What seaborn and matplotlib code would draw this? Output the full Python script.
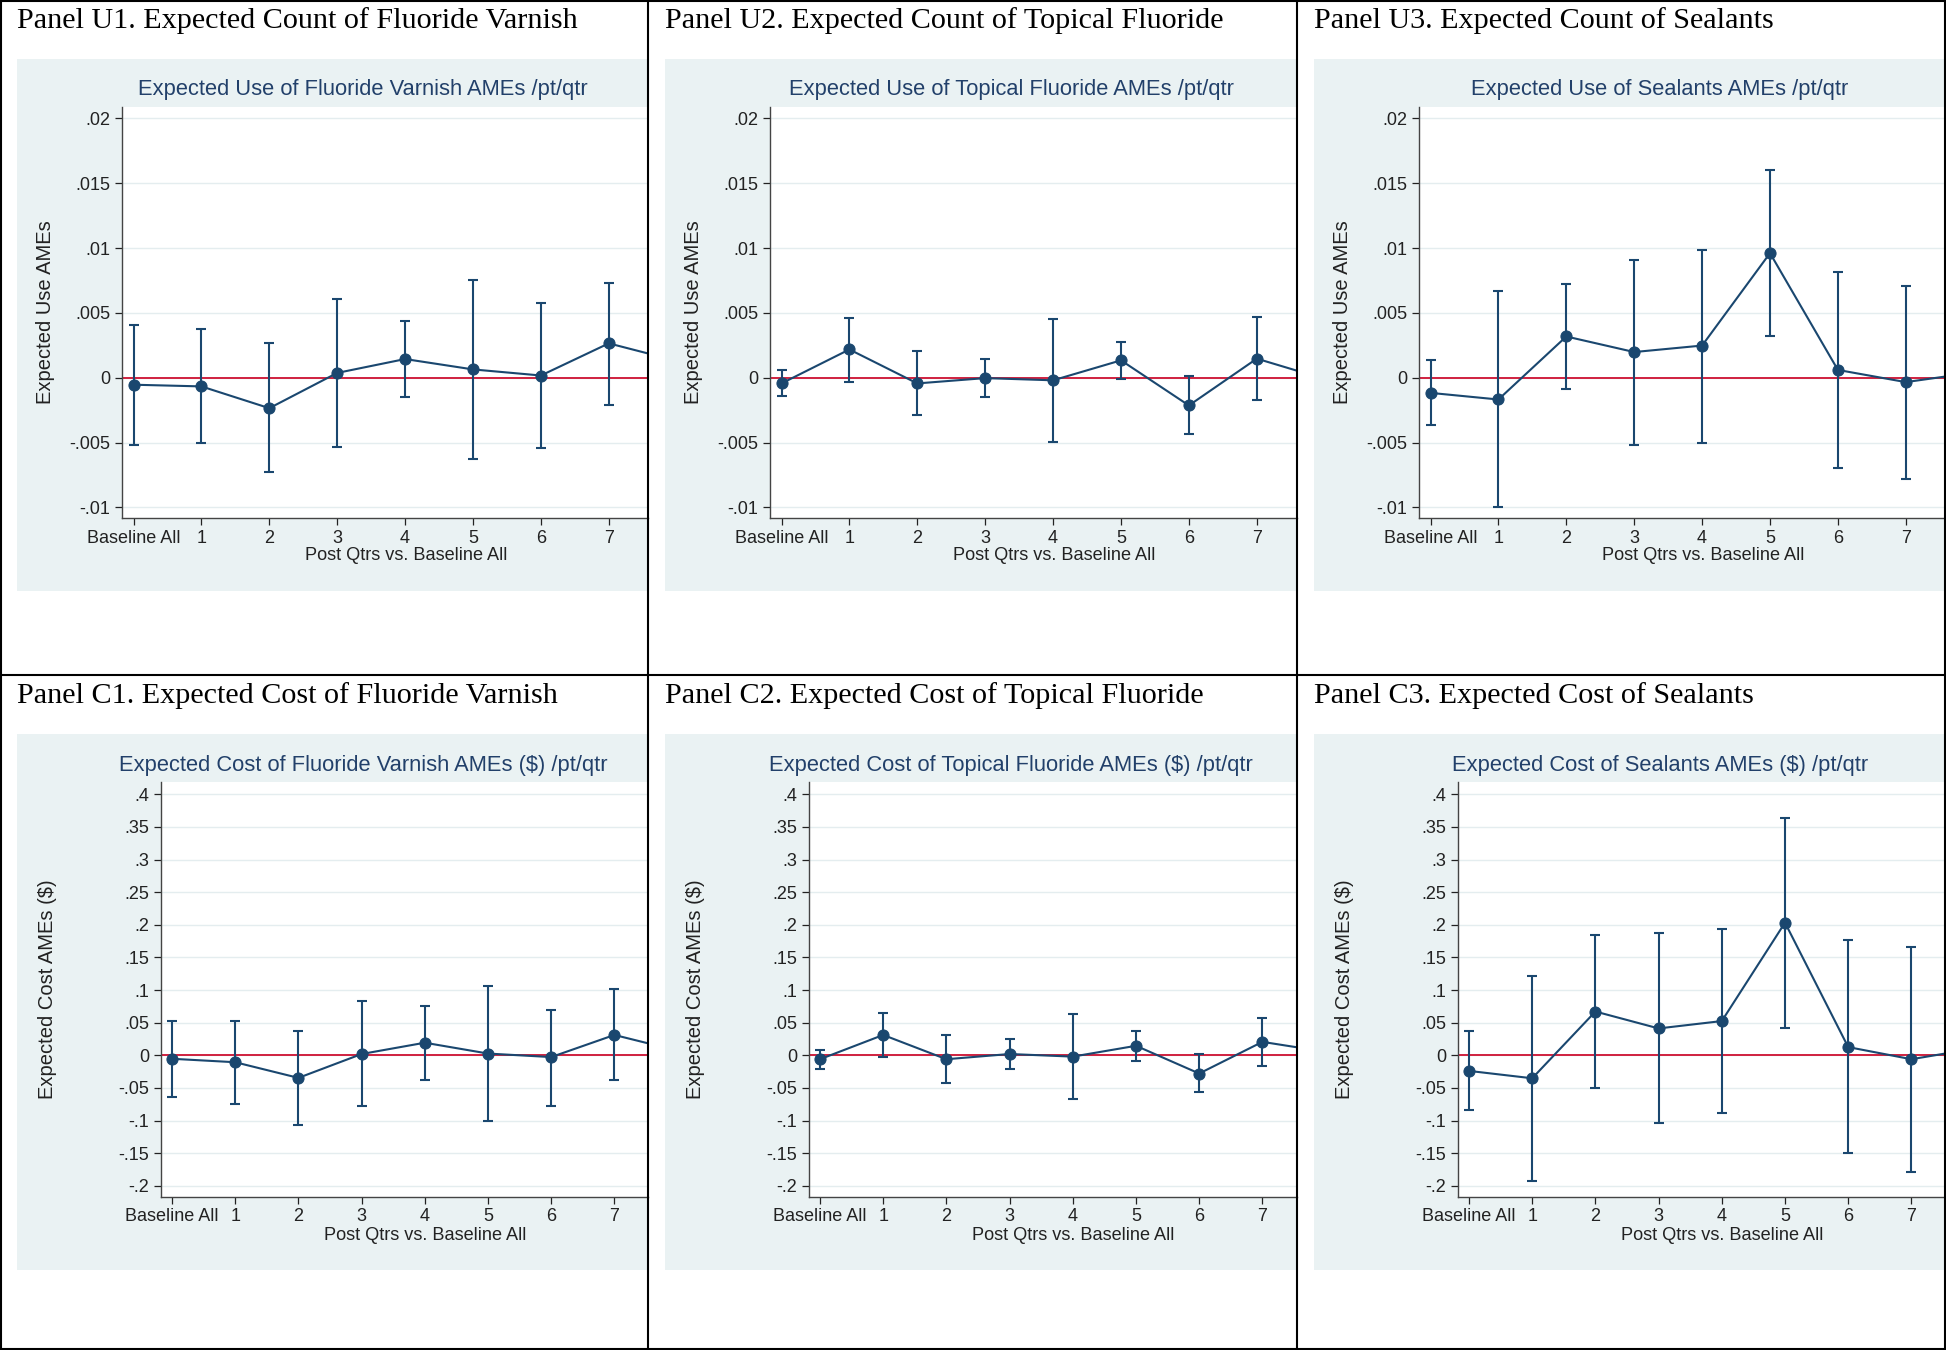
import numpy as np
import pandas as pd
import matplotlib
matplotlib.use("Agg")
import matplotlib.pyplot as plt
from matplotlib.patches import Rectangle
from matplotlib.lines import Line2D
import seaborn as sns

# --- data ---
qtr_pos = [0, 1, 2, 3, 4, 5, 6, 7, 8]
qtr_labels = ["Baseline All", "1", "2", "3", "4", "5", "6", "7"]

# expected use, fluoride varnish
u1_est = [-0.00054, -0.00067, -0.00235, 0.00037, 0.00144, 0.00064, 0.00017, 0.00265, 0.0013]
u1_lo = [-0.00516, -0.00506, -0.0073, -0.00533, -0.00147, -0.00626, -0.00539, -0.00208]
u1_hi = [0.00405, 0.00372, 0.00265, 0.0061, 0.00436, 0.00754, 0.00573, 0.00734]
# expected use, topical fluoride
u2_est = [-0.00044, 0.00218, -0.00044, -0.00003, -0.0002, 0.00134, -0.00214, 0.00147, -0.0001]
u2_lo = [-0.00144, -0.0003, -0.00291, -0.00151, -0.00496, -0.00007, -0.00432, -0.00171]
u2_hi = [0.00057, 0.00462, 0.00204, 0.00144, 0.00452, 0.00278, 0.00013, 0.00466]
# expected use, sealants
u3_est = [-0.00117, -0.00168, 0.00318, 0.00198, 0.00248, 0.00961, 0.0006, -0.00034, 0.0004]
u3_lo = [-0.00365, -0.00995, -0.00084, -0.00516, -0.00503, 0.00322, -0.00697, -0.0078]
u3_hi = [0.00137, 0.00667, 0.0072, 0.00911, 0.00988, 0.01605, 0.00814, 0.00707]
# expected cost, fluoride varnish
c1_est = [-0.0053, -0.0106, -0.0346, 0.002, 0.0193, 0.0027, -0.0027, 0.0312, 0.0071]
c1_lo = [-0.0638, -0.0751, -0.1063, -0.0784, -0.0372, -0.101, -0.0771, -0.0385]
c1_hi = [0.0525, 0.0532, 0.0379, 0.0831, 0.0751, 0.107, 0.0698, 0.1017]
# expected cost, topical fluoride
c2_est = [-0.006, 0.0312, -0.006, 0.002, -0.002, 0.0146, -0.0279, 0.0206, 0.0054]
c2_lo = [-0.0206, -0.0027, -0.0432, -0.0213, -0.0664, -0.0093, -0.0565, -0.0159]
c2_hi = [0.008, 0.0651, 0.0312, 0.0252, 0.0631, 0.0379, 0.0013, 0.0571]
# expected cost, sealants
c3_est = [-0.0239, -0.0352, 0.0671, 0.0412, 0.0525, 0.2033, 0.0126, -0.006, 0.0103]
c3_lo = [-0.0837, -0.192, -0.0498, -0.103, -0.0884, 0.0419, -0.1502, -0.1794]
c3_hi = [0.0365, 0.1223, 0.184, 0.1867, 0.194, 0.3641, 0.1761, 0.1661]

use_ticks = [-0.01, -0.005, 0, 0.005, 0.01, 0.015, 0.02]
use_ticklabels = ["-.01", "-.005", "0", ".005", ".01", ".015", ".02"]
cost_ticks = [-0.2, -0.15, -0.1, -0.05, 0, 0.05, 0.1, 0.15, 0.2, 0.25, 0.3, 0.35, 0.4]
cost_ticklabels = ["-.2", "-.15", "-.1", "-.05", "0", ".05", ".1", ".15", ".2",
                   ".25", ".3", ".35", ".4"]

panel_titles = [
    "Panel U1. Expected Count of Fluoride Varnish",
    "Panel U2. Expected Count of Topical Fluoride",
    "Panel U3. Expected Count of Sealants",
    "Panel C1. Expected Cost of Fluoride Varnish",
    "Panel C2. Expected Cost of Topical Fluoride",
    "Panel C3. Expected Cost of Sealants",
]
graph_titles = [
    "Expected Use of Fluoride Varnish AMEs /pt/qtr",
    "Expected Use of Topical Fluoride AMEs /pt/qtr",
    "Expected Use of Sealants AMEs /pt/qtr",
    "Expected Cost of Fluoride Varnish AMEs ($) /pt/qtr",
    "Expected Cost of Topical Fluoride AMEs ($) /pt/qtr",
    "Expected Cost of Sealants AMEs ($) /pt/qtr",
]
series = [(u1_est, u1_lo, u1_hi), (u2_est, u2_lo, u2_hi), (u3_est, u3_lo, u3_hi),
          (c1_est, c1_lo, c1_hi), (c2_est, c2_lo, c2_hi), (c3_est, c3_lo, c3_hi)]

# --- style ---
sns.set_theme(style="ticks")
plt.rcParams['font.family'] = ['Liberation Sans', 'DejaVu Sans']

NAVY = "#1A476F"
RED = "#D0213F"
BG = "#EAF2F3"
GRID = "#E4EDEF"
TITLE_COL = "#22406A"

W, H = 1946, 1350
fig = plt.figure(figsize=(W / 100, H / 100), dpi=100)
fig.patch.set_facecolor("white")

col_x = [0, 648, 1297]
col_w = [648, 649, 649]
row_y = [0, 675]


def fx(x):
    return x / W


def fy(y):
    return 1 - y / H


for i in range(6):
    r, c = divmod(i, 3)
    ox, oy, cw = col_x[c], row_y[r], col_w[c]
    is_use = r == 0
    est, lo, hi = series[i]

    # geometry in pixels (relative to the cell)
    if is_use:
        left, bottom, top, bg_bottom = 122, 518, 107, 591
        base_px, step_px = 133.5, 67.9
        ylim = (-0.01082, 0.02088)
        ticks, ticklabels = use_ticks, use_ticklabels
        ylab = "Expected Use AMEs"
        ylab_x, xlab_y, xlab_x = 45.6, 556, 406
    else:
        left, bottom, top, bg_bottom = 160.5, 521.7, 107, 595
        base_px, step_px = 172, 63.2
        ylim = (-0.2167, 0.4189)
        ticks, ticklabels = cost_ticks, cost_ticklabels
        ylab = "Expected Cost AMEs ($)"
        ylab_x, xlab_y, xlab_x = 47.7, 561, 425

    # grey-blue graph region
    fig.add_artist(Rectangle((fx(ox + 17), fy(oy + bg_bottom)), (cw - 17) / W,
                             (bg_bottom - 59) / H, transform=fig.transFigure,
                             facecolor=BG, edgecolor="none", zorder=0))

    aw = cw - left
    ah = bottom - top
    ax = fig.add_axes([fx(ox + left), fy(oy + bottom), aw / W, ah / H])
    ax.set_facecolor("white")
    ax.set_zorder(1)

    df = pd.DataFrame({"qtr": qtr_pos, "ame": est})
    for t in ticks:
        ax.axhline(t, color=GRID, lw=1.0, zorder=0)
    ax.axhline(0, color=RED, lw=1.4, zorder=1)
    ax.errorbar(qtr_pos[:8], est[:8],
                yerr=[np.array(est[:8]) - np.array(lo), np.array(hi) - np.array(est[:8])],
                fmt="none", ecolor=NAVY, elinewidth=1.5, capsize=3.8, capthick=1.5,
                zorder=2)
    sns.lineplot(data=df, x="qtr", y="ame", ax=ax, color=NAVY, lw=1.5,
                 marker="o", markersize=8, markeredgecolor=NAVY,
                 markerfacecolor=NAVY, zorder=3)

    ax.set_xlim(-(base_px - left) / step_px, (cw - base_px) / step_px)
    ax.set_ylim(*ylim)
    ax.set_xticks(qtr_pos[:8])
    ax.set_xticklabels(qtr_labels)
    ax.set_yticks(ticks)
    ax.set_yticklabels(ticklabels)
    ax.tick_params(axis="both", labelsize=13, colors="#222222", length=4.8,
                   width=0.9, pad=3.5, direction="out")
    for s in ["top", "right"]:
        ax.spines[s].set_visible(False)
    for s in ["left", "bottom"]:
        ax.spines[s].set_color("#444444")
        ax.spines[s].set_linewidth(1.0)

    ax.set_ylabel(ylab, fontsize=14.5, color="#222222")
    ax.yaxis.set_label_coords((ylab_x - left) / aw, 0.5)
    ax.set_xlabel("Post Qtrs vs. Baseline All", fontsize=13.1, color="#222222")
    ax.xaxis.set_label_coords((xlab_x - left) / aw, -(xlab_y - bottom) / ah)
    ax.xaxis.label.set_va("center")
    ax.yaxis.label.set_va("center")

    # stata graph title
    fig.text(fx(ox + 363), fy(oy + 90), graph_titles[i], ha="center", va="center",
             fontsize=15.75, color=TITLE_COL, zorder=2)
    # panel caption
    fig.text(fx(ox + 17), fy(oy + 21), panel_titles[i], ha="left", va="center",
             fontsize=21.7, color="black", family=["Liberation Serif", "DejaVu Serif"],
             zorder=2)

# table borders
for x in [648, 1297]:
    fig.add_artist(Line2D([fx(x), fx(x)], [0, 1], transform=fig.transFigure,
                          color="black", lw=1.5, zorder=5))
fig.add_artist(Line2D([0, 1], [fy(675), fy(675)], transform=fig.transFigure,
                      color="black", lw=1.5, zorder=5))
fig.add_artist(Rectangle((0.0004, 0.0006), 0.9992, 0.9988, transform=fig.transFigure,
                         facecolor="none", edgecolor="black", lw=1.5, zorder=5))

fig.savefig("out.png", dpi=100)
